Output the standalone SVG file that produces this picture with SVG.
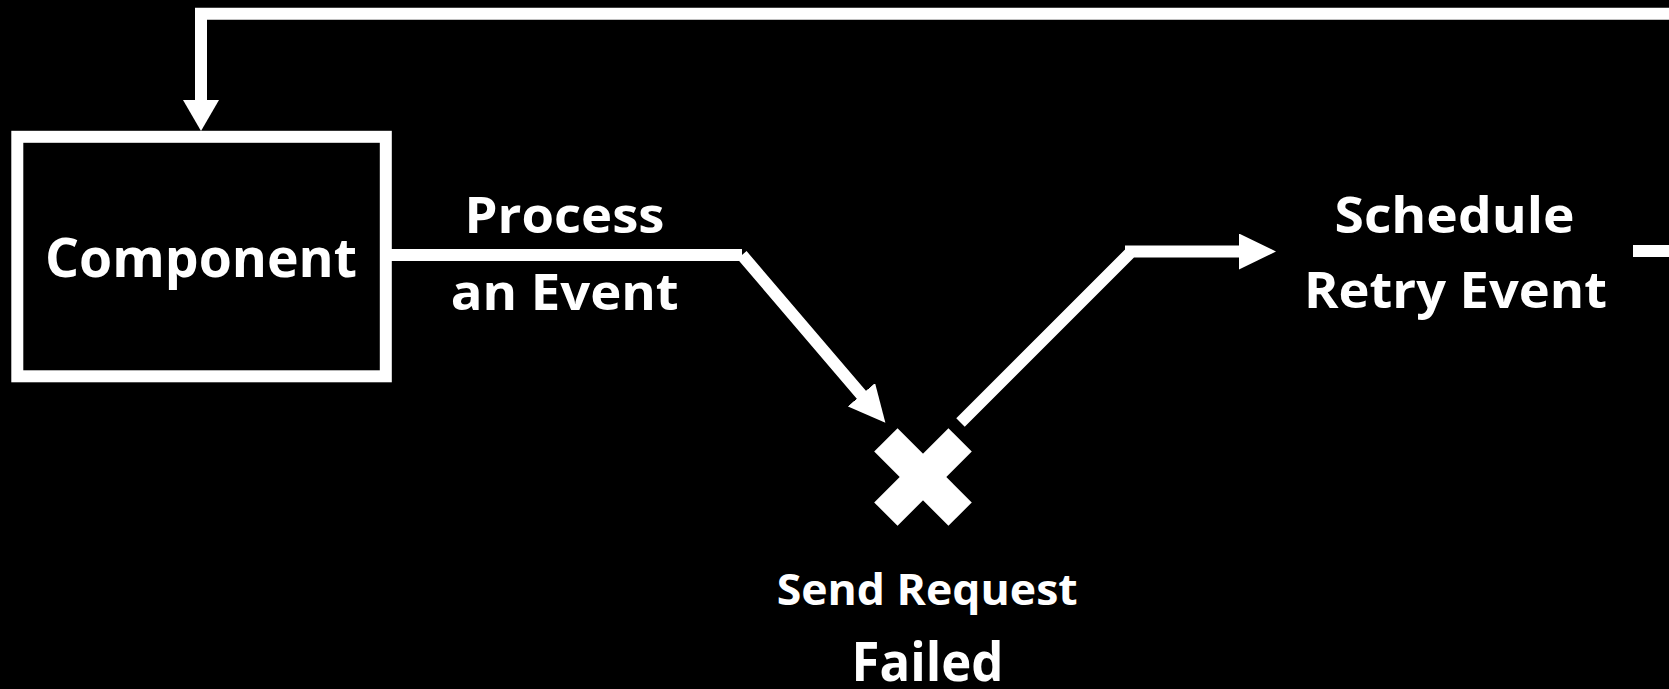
<svg xmlns="http://www.w3.org/2000/svg" width="1669" height="689" viewBox="0 0 1669 689">
  <defs>
    <style>
      .label { font-family: "Open Sans", "Liberation Sans", sans-serif; font-weight: bold; fill: #ffffff; text-anchor: middle; }
      .wire { fill: none; stroke: #ffffff; stroke-width: 12; stroke-linecap: butt; stroke-linejoin: miter; }
      .box { fill: #000000; stroke: #ffffff; stroke-width: 12; }
    </style>
    <!-- filled triangular heads; path ends at the head's base -->
    <marker id="head" viewBox="0 0 37 36" refX="1" refY="18" markerWidth="37" markerHeight="36" markerUnits="userSpaceOnUse" orient="auto">
      <path d="M0 0 L37 18 L0 36 Z" fill="#ffffff"/>
    </marker>
    <marker id="headShort" viewBox="0 0 31 36" refX="1" refY="18" markerWidth="31" markerHeight="36" markerUnits="userSpaceOnUse" orient="auto">
      <path d="M0 0 L31 18 L0 36 Z" fill="#ffffff"/>
    </marker>
  </defs>

  <rect width="1669" height="689" fill="#000000"/>

  <g id="connectors">
    <!-- Component -> failed send -->
    <path class="wire" d="M391 255 H742 M742 255 L862 395.5" marker-end="url(#head)"/>
    <!-- failed send -> retry scheduling -->
    <path class="wire" d="M960.5 422.5 L1131 252 M1125 251.5 H1240" marker-end="url(#head)"/>
    <!-- retry loops back to Component -->
    <path class="wire" d="M1633 251 H1700 V13.7 H201 V101" stroke-width="12.5" marker-end="url(#headShort)"/>
  </g>

  <g id="component">
    <rect class="box" x="17.3" y="136.8" width="368.5" height="239.5"/>
    <text class="label" x="201" y="277" font-size="54" textLength="312" lengthAdjust="spacingAndGlyphs">Component</text>
  </g>

  <g id="process-event">
    <text class="label" x="564.5" y="233.3" font-size="50" textLength="200" lengthAdjust="spacingAndGlyphs">Process</text>
    <text class="label" x="564.7" y="310" font-size="50" textLength="228" lengthAdjust="spacingAndGlyphs">an Event</text>
  </g>

  <g id="send-failed">
    <rect x="870.5" y="460.5" width="105" height="33" fill="#ffffff" transform="rotate(45 923 477)"/>
    <rect x="870.5" y="460.5" width="105" height="33" fill="#ffffff" transform="rotate(-45 923 477)"/>
    <text class="label" x="927.2" y="605" font-size="43" textLength="301" lengthAdjust="spacingAndGlyphs">Send Request</text>
    <text class="label" x="927.5" y="681" font-size="53" textLength="152" lengthAdjust="spacingAndGlyphs">Failed</text>
  </g>

  <g id="schedule-retry">
    <text class="label" x="1454.5" y="233.3" font-size="50" textLength="240" lengthAdjust="spacingAndGlyphs">Schedule</text>
    <text class="label" x="1455.5" y="308.3" font-size="50" textLength="303" lengthAdjust="spacingAndGlyphs">Retry Event</text>
  </g>
</svg>
